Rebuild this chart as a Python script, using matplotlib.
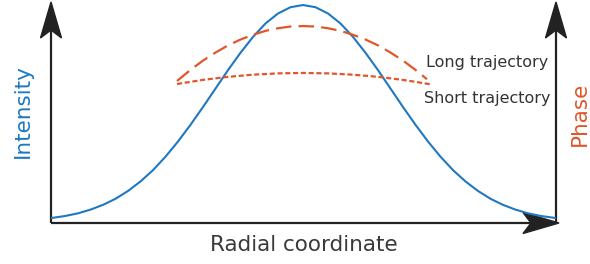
import matplotlib.pyplot as plt
from matplotlib.patches import Polygon

# radial coordinate and intensity (peak = 1)
radial = [-2.52, -2.375, -2.25, -2.125, -2.0, -1.875, -1.75, -1.625, -1.5, -1.375, -1.25,
          -1.125, -1.0, -0.875, -0.75, -0.625, -0.5, -0.375, -0.25, -0.125, 0.0,
          0.125, 0.25, 0.375, 0.5, 0.625, 0.75, 0.875, 1.0, 1.125, 1.25,
          1.375, 1.5, 1.625, 1.75, 1.875, 2.0, 2.125, 2.25, 2.375, 2.53]
intensity = [0.018, 0.028, 0.040, 0.057, 0.079, 0.107, 0.143, 0.187, 0.239, 0.301, 0.371,
             0.448, 0.530, 0.615, 0.700, 0.780, 0.853, 0.915, 0.961, 0.990, 1.0,
             0.990, 0.961, 0.915, 0.853, 0.780, 0.700, 0.615, 0.530, 0.448, 0.371,
             0.301, 0.239, 0.187, 0.143, 0.107, 0.079, 0.057, 0.040, 0.028, 0.018]

# phase of the two trajectories
radial_long = [-1.26, -1.125, -1.0, -0.875, -0.75, -0.625, -0.5, -0.375, -0.25, -0.125, 0.0,
               0.125, 0.25, 0.375, 0.5, 0.625, 0.75, 0.875, 1.0, 1.125, 1.24]
phase_long = [0.650, 0.701, 0.744, 0.781, 0.814, 0.841, 0.863, 0.881, 0.893, 0.901, 0.903,
              0.901, 0.893, 0.881, 0.863, 0.841, 0.814, 0.781, 0.744, 0.701, 0.658]
radial_short = [-1.26, -1.125, -1.0, -0.875, -0.75, -0.625, -0.5, -0.375, -0.25, -0.125, 0.0,
                0.125, 0.25, 0.375, 0.5, 0.625, 0.75, 0.875, 1.0, 1.125, 1.27]
phase_short = [0.636, 0.646, 0.655, 0.662, 0.669, 0.674, 0.679, 0.682, 0.685, 0.686, 0.687,
               0.686, 0.685, 0.682, 0.679, 0.674, 0.669, 0.662, 0.655, 0.646, 0.635]

blue = '#1f78c1'
orange = '#e0572b'
dark = '#222222'
W, H = 590, 264

fig = plt.figure(figsize=(W / 100, H / 100), dpi=100)

# overlay in pixel coordinates for the arrows and labels
deco = fig.add_axes([0, 0, 1, 1])
deco.set_xlim(0, W)
deco.set_ylim(H, 0)
deco.axis('off')

# data axes
ax = fig.add_axes([51 / W, (H - 222) / H, (556 - 51) / W, 220 / H])
ax.set_xlim(-2.52, 2.53)
ax.set_ylim(0, 1.014)
ax.axis('off')

ax.plot(radial, intensity, color=blue, lw=1.5, solid_capstyle='round')
ax.plot(radial_long, phase_long, color=orange, lw=1.6, dashes=(7, 3.2))
ax.plot(radial_short, phase_short, color=orange, lw=1.6, dashes=(2.3, 1.2))


def head(tip, direction):
    # stealth-like arrow head, pixel coordinates
    x, y = tip
    L, w, n = 36, 10.5, 8
    if direction == 'up':
        pts = [(x, y), (x + w, y + L), (x, y + L - n), (x - w, y + L)]
    else:
        pts = [(x, y), (x - L, y - w), (x - L + n, y), (x - L, y + w)]
    deco.add_patch(Polygon(pts, closed=True, color=dark, zorder=5))


deco.plot([51, 51], [223, 20], color=dark, lw=1.6, solid_capstyle='butt')
deco.plot([51, 540], [223, 223], color=dark, lw=1.6, solid_capstyle='butt')
deco.plot([556, 556], [223, 20], color=dark, lw=1.6, solid_capstyle='butt')
head((51, 2), 'up')
head((556, 2), 'up')
head((559, 223), 'right')

deco.text(23, 111, 'Intensity', color=blue, fontsize=15.5, rotation=90,
          ha='center', va='center')
deco.text(580, 114, 'Phase', color=orange, fontsize=15.5, rotation=90,
          ha='center', va='center')
deco.text(304, 245, 'Radial coordinate', color='#3a3a3a', fontsize=15.5,
          ha='center', va='center')
deco.text(426, 63, 'Long trajectory', color='#333333', fontsize=11.5,
          ha='left', va='center')
deco.text(424, 98, 'Short trajectory', color='#333333', fontsize=11.5,
          ha='left', va='center')

plt.savefig('out.png', dpi=100)
